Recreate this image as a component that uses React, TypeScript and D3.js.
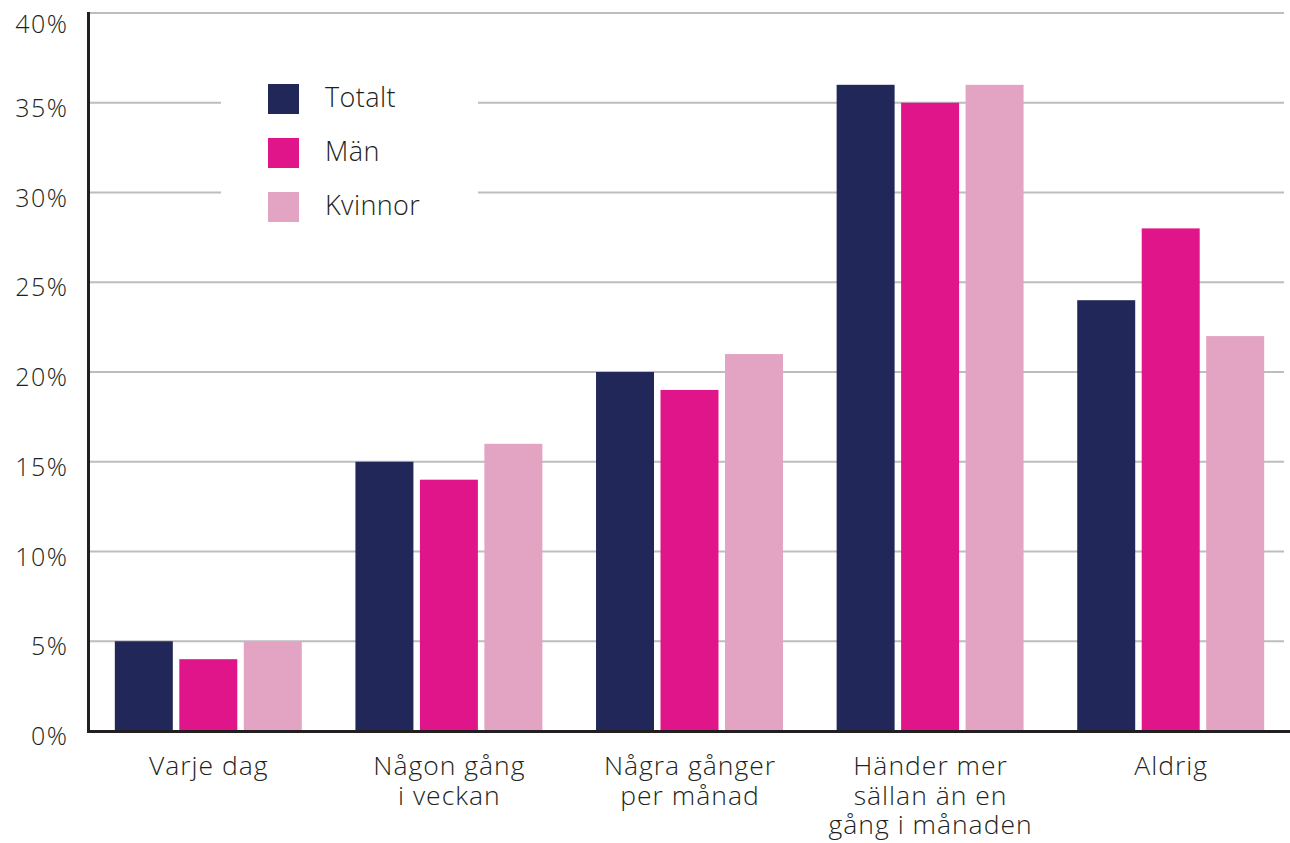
import React from "react";
import * as d3 from "d3";

const categories: string[][] = [
  ["Varje dag"],
  ["Någon gång", "i veckan"],
  ["Några gånger", "per månad"],
  ["Händer mer", "sällan än en", "gång i månaden"],
  ["Aldrig"],
];
const seriesNames = ["Totalt", "Män", "Kvinnor"];
const seriesColors = ["#212758", "#df1589", "#e3a3c3"];
const totalt = [5, 15, 20, 36, 24];
const man = [4, 14, 19, 35, 28];
const kvinnor = [5, 16, 21, 36, 22];
const yTicks = [0, 5, 10, 15, 20, 25, 30, 35, 40];

const W = 1290;
const H = 843;
const FONT = "'Open Sans', Lato, sans-serif";

export default function App() {
  const seriesValues = [totalt, man, kvinnor];
  const catKeys = categories.map((c) => c.join(" "));
  const x0 = d3
    .scaleBand<string>()
    .domain(catKeys)
    .range([88, 1291])
    .paddingInner(0.223)
    .paddingOuter(0.1115);
  const x1 = d3
    .scaleBand<string>()
    .domain(seriesNames)
    .range([0, x0.bandwidth()])
    .paddingInner(0.1008)
    .paddingOuter(0);
  const y = d3.scaleLinear().domain([0, 40]).range([731, 13]);
  const tickLS = 1.5;
  const xLS = 1;

  return (
    <svg
      width={W}
      height={H}
      style={{ position: "absolute", left: 0, top: 0, background: "#fff" }}
      fontFamily={FONT}
      fontWeight={350}
    >
      {/* gridlines */}
      {yTicks
        .filter((t) => t > 0)
        .map((t) => (
          <line
            key={"g" + t}
            x1={90}
            x2={1284}
            y1={y(t)}
            y2={y(t)}
            stroke="#bdbdc1"
            strokeWidth={2}
          />
        ))}
      {/* y tick labels */}
      {yTicks.map((t) => (
        <text
          key={"t" + t}
          x={67 + tickLS}
          y={Math.max(y(t) + 14, 33)}
          textAnchor="end"
          fontSize={25}
          letterSpacing={tickLS}
          fill="#231f20"
        >
          {t}%
        </text>
      ))}
      {/* bars */}
      {catKeys.map((c, i) => (
        <g key={c} transform={`translate(${x0(c)},0)`}>
          {seriesNames.map((s, j) => (
            <rect
              key={s}
              x={x1(s)}
              y={y(seriesValues[j][i])}
              width={x1.bandwidth()}
              height={y(0) - y(seriesValues[j][i])}
              fill={seriesColors[j]}
            />
          ))}
        </g>
      ))}
      {/* axes */}
      <line x1={88.5} x2={88.5} y1={12} y2={733} stroke="#231f20" strokeWidth={3} />
      <line x1={87} x2={1290} y1={731.5} y2={731.5} stroke="#231f20" strokeWidth={3} />
      {/* x labels */}
      {categories.map((lines, i) => {
        const cx = (x0(catKeys[i]) as number) + x0.bandwidth() / 2 + xLS / 2;
        return (
          <text
            key={"x" + i}
            x={cx}
            y={775}
            textAnchor="middle"
            fontSize={26.5}
            letterSpacing={xLS}
            fill="#231f20"
          >
            {lines.map((l, k) => (
              <tspan key={k} x={cx} dy={k === 0 ? 0 : 29.5}>
                {l}
              </tspan>
            ))}
          </text>
        );
      })}
      {/* legend */}
      <rect x={221} y={60} width={257} height={180} fill="#fff" />
      {seriesNames.map((s, j) => (
        <g key={"l" + s} transform={`translate(268,${84 + j * 54})`}>
          <rect width={31} height={30} fill={seriesColors[j]} />
          <text x={57} y={23} fontSize={27} letterSpacing={0.4} fill="#231f20">
            {s}
          </text>
        </g>
      ))}
    </svg>
  );
}
